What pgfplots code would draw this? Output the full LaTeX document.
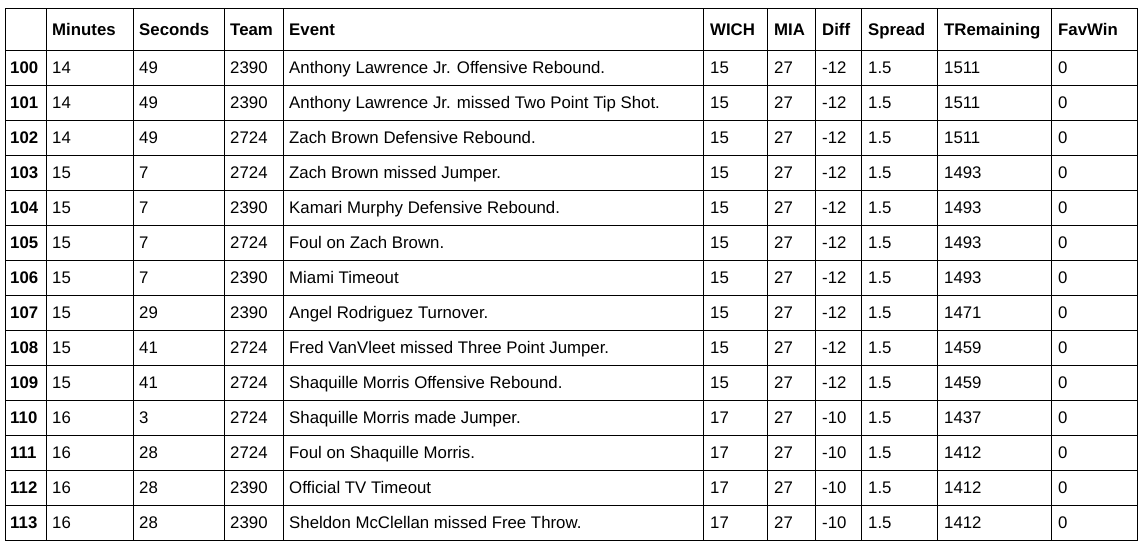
\documentclass[border=0pt]{standalone}
\usepackage{pgfplots}
\pgfplotsset{compat=1.18}
\usepackage{fontspec}
\setmainfont{Liberation Sans}
\begin{document}
\begin{tikzpicture}[every node/.style={anchor=base west,inner sep=0pt,font=\fontsize{16.8}{19}\selectfont}]
\begin{axis}[x=1pt,y=-1pt,xmin=0,xmax=1148,ymin=0,ymax=550,hide axis,scale only axis,clip=false]
\addplot[white,line width=0.1pt] coordinates {(0,0)(1148,0)(1148,550)(0,550)(0,0)};
\addplot[black,line width=1pt] coordinates {(5,8)(1138,8)(1138,540)(5,540)(5,8)};
\pgfplotsinvokeforeach{46,133,224,283,704,768,816,862,938,1052}{\addplot[black,line width=1pt] coordinates {(#1,8)(#1,540)};}
\pgfplotsinvokeforeach{50,85,120,155,190,225,260,295,330,365,400,435,470,505}{\addplot[black,line width=1pt] coordinates {(5,#1)(1138,#1)};}
\def\hb{\fontsize{16.8}{19}\selectfont\bfseries}
\node[font=\hb] at (axis cs:52,35) {Minutes};
\node[font=\hb] at (axis cs:139,35) {Seconds};
\node[font=\hb] at (axis cs:230,35) {Team};
\node[font=\hb] at (axis cs:289,35) {Event};
\node[font=\hb] at (axis cs:710,35) {WICH};
\node[font=\hb] at (axis cs:774,35) {MIA};
\node[font=\hb] at (axis cs:822,35) {Diff};
\node[font=\hb] at (axis cs:868,35) {Spread};
\node[font=\hb] at (axis cs:944,35) {TRemaining};
\node[font=\hb] at (axis cs:1058,35) {FavWin};
\def\row#1#2#3#4#5#6#7#8#9{%
 \node[font=\hb] at (axis cs:10,#1) {#2};
 \node at (axis cs:52,#1) {#3};
 \node at (axis cs:139,#1) {#4};
 \node at (axis cs:230,#1) {#5};
 \node at (axis cs:289,#1) {#6};
 \node at (axis cs:710,#1) {#7};
 \node at (axis cs:774,#1) {27};
 \node at (axis cs:822,#1) {#8};
 \node at (axis cs:868,#1) {1.5};
 \node at (axis cs:944,#1) {#9};
 \node at (axis cs:1058,#1) {0};}
\row{73.5}{100}{14}{49}{2390}{Anthony Lawrence Jr. Offensive Rebound.}{15}{-12}{1511}
\row{108.5}{101}{14}{49}{2390}{Anthony Lawrence Jr. missed Two Point Tip Shot.}{15}{-12}{1511}
\row{143.5}{102}{14}{49}{2724}{Zach Brown Defensive Rebound.}{15}{-12}{1511}
\row{178.5}{103}{15}{7}{2724}{Zach Brown missed Jumper.}{15}{-12}{1493}
\row{213.5}{104}{15}{7}{2390}{Kamari Murphy Defensive Rebound.}{15}{-12}{1493}
\row{248.5}{105}{15}{7}{2724}{Foul on Zach Brown.}{15}{-12}{1493}
\row{283.5}{106}{15}{7}{2390}{Miami Timeout}{15}{-12}{1493}
\row{318.5}{107}{15}{29}{2390}{Angel Rodriguez Turnover.}{15}{-12}{1471}
\row{353.5}{108}{15}{41}{2724}{Fred VanVleet missed Three Point Jumper.}{15}{-12}{1459}
\row{388.5}{109}{15}{41}{2724}{Shaquille Morris Offensive Rebound.}{15}{-12}{1459}
\row{423.5}{110}{16}{3}{2724}{Shaquille Morris made Jumper.}{17}{-10}{1437}
\row{458.5}{111}{16}{28}{2724}{Foul on Shaquille Morris.}{17}{-10}{1412}
\row{493.5}{112}{16}{28}{2390}{Official TV Timeout}{17}{-10}{1412}
\row{528.5}{113}{16}{28}{2390}{Sheldon McClellan missed Free Throw.}{17}{-10}{1412}
\end{axis}
\end{tikzpicture}
\end{document}
